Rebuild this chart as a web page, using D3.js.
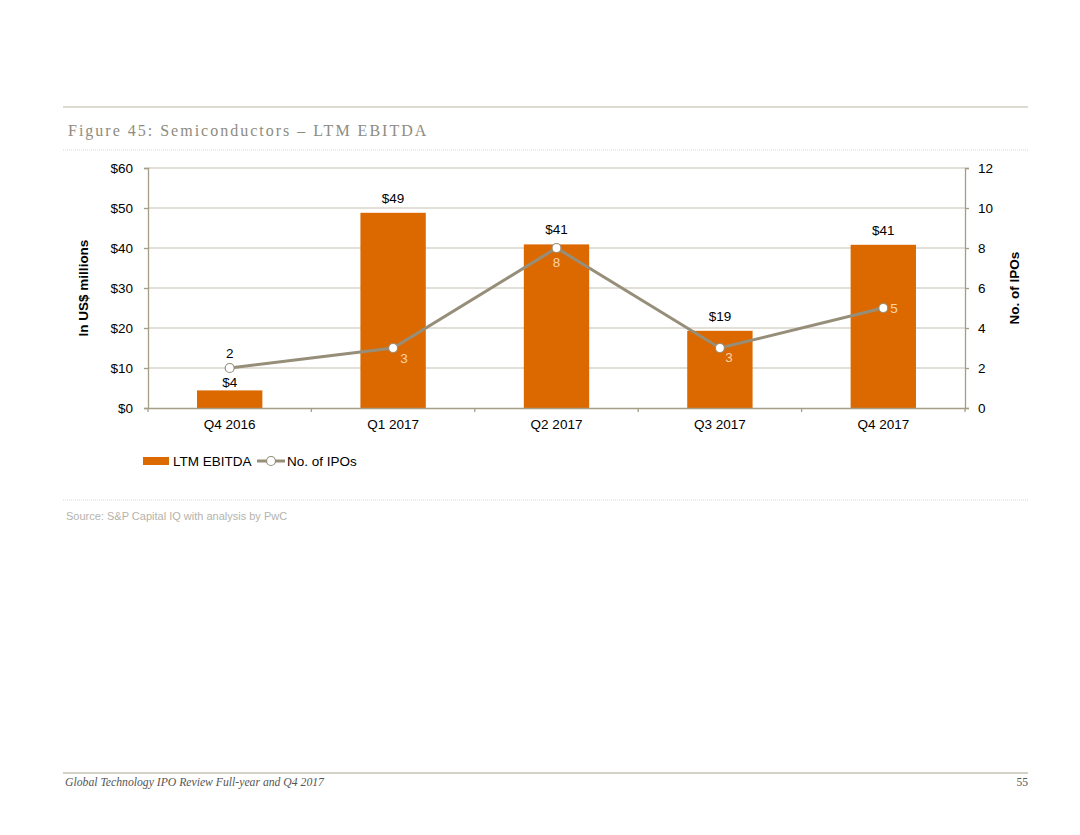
<!DOCTYPE html>
<html><head><meta charset="utf-8">
<script src="https://cdn.jsdelivr.net/npm/d3@7/dist/d3.min.js"></script>
<style>body{margin:0;background:#fff}svg{display:block}</style>
</head><body>
<script>
const categories = ["Q4 2016","Q1 2017","Q2 2017","Q3 2017","Q4 2017"];
const ebitda = [4.4, 48.8, 40.9, 19.3, 40.8];
const ebitdaLabels = ["$4","$49","$41","$19","$41"];
const ipos = [2, 3, 8, 3, 5];
const leftTicks = [0,10,20,30,40,50,60];
const rightTicks = [0,2,4,6,8,10,12];
// label placement per point of the IPO series
const ipoLabelPos = ["above","belowRight","below","belowRight2","right"];

const W=1080,H=835;
const svg=d3.select("body").append("svg").attr("width",W).attr("height",H);
const axisCol="#a59d86", gridCol="#d8d5cb", orange="#dc6900", lineCol="#968e78";
const font="Arial, 'Liberation Sans', sans-serif";
const fs=13.5;

// page rules
svg.append("line").attr("x1",63).attr("x2",1028).attr("y1",107).attr("y2",107).attr("stroke","#bdb8a6").attr("stroke-width",1.2);
svg.append("text").attr("x",68).attr("y",136).text("Figure 45: Semiconductors – LTM EBITDA")
  .attr("font-family","'Liberation Serif','DejaVu Serif',serif").attr("font-size",16).attr("letter-spacing",2).attr("fill","#8e8c80");
svg.append("line").attr("x1",63).attr("x2",1028).attr("y1",150).attr("y2",150).attr("stroke","#cfcbbd").attr("stroke-width",0.8).attr("stroke-dasharray","1,1");
svg.append("line").attr("x1",63).attr("x2",1028).attr("y1",500).attr("y2",500).attr("stroke","#cfcbbd").attr("stroke-width",0.8).attr("stroke-dasharray","1,1");
svg.append("text").attr("x",66).attr("y",520).text("Source: S&P Capital IQ with analysis by PwC")
  .attr("font-family",font).attr("font-size",11).attr("fill","#b5b3ab");
svg.append("line").attr("x1",63).attr("x2",1028).attr("y1",773).attr("y2",773).attr("stroke","#a9a48f").attr("stroke-width",1.2);
svg.append("text").attr("x",65).attr("y",786).text("Global Technology IPO Review Full-year and Q4 2017")
  .attr("font-family","'Liberation Serif','DejaVu Serif',serif").attr("font-style","italic").attr("font-size",11.7).attr("fill","#555");
svg.append("text").attr("x",1028).attr("y",786).attr("text-anchor","end").text("55")
  .attr("font-family","'Liberation Serif','DejaVu Serif',serif").attr("font-size",11.5).attr("fill","#555");

const x0=148,x1=965,y0=408,y1=168;
const x=d3.scaleBand().domain(categories).range([x0,x1]).paddingInner(0).paddingOuter(0);
const yL=d3.scaleLinear().domain([0,60]).range([y0,y1]);
const yR=d3.scaleLinear().domain([0,12]).range([y0,y1]);

// gridlines
svg.append("g").selectAll("line").data(leftTicks.filter(d=>d>0)).join("line")
  .attr("x1",x0).attr("x2",x1).attr("y1",d=>yL(d)).attr("y2",d=>yL(d)).attr("stroke",gridCol).attr("stroke-width",1.3);

// bars
const bw=x.bandwidth()*0.4;
svg.append("g").selectAll("rect").data(ebitda).join("rect")
  .attr("x",(d,i)=>x(categories[i])+x.bandwidth()/2-bw/2).attr("width",bw)
  .attr("y",d=>yL(d)).attr("height",d=>yL(0)-yL(d)).attr("fill",orange);

// axes
function styleAxis(g){g.select(".domain").attr("stroke",axisCol).attr("stroke-width",1.3);
  g.selectAll(".tick line").attr("stroke",axisCol).attr("stroke-width",1.3);
  g.selectAll("text").attr("font-family",font).attr("font-size",fs).attr("fill","#000");}
svg.append("g").attr("transform",`translate(${x0},0)`)
  .call(d3.axisLeft(yL).tickValues(leftTicks).tickFormat(d=>"$"+d).tickSizeOuter(0).tickSize(4).tickPadding(11)).call(styleAxis);
svg.append("g").attr("transform",`translate(${x1},0)`)
  .call(d3.axisRight(yR).tickValues(rightTicks).tickSizeOuter(0).tickSize(4).tickPadding(9)).call(styleAxis);
const gx=svg.append("g").attr("transform",`translate(0,${y0})`)
  .call(d3.axisBottom(x).tickSize(0).tickSizeOuter(0).tickPadding(9)).call(styleAxis);
gx.selectAll(".tick text").attr("dy","0.9em");
// category boundary ticks
svg.append("g").selectAll("line").data(d3.range(categories.length+1)).join("line")
  .attr("x1",i=>x0+i*x.step()).attr("x2",i=>x0+i*x.step()).attr("y1",y0).attr("y2",y0+4)
  .attr("stroke",axisCol).attr("stroke-width",1.3);

// axis titles
svg.append("text").attr("transform",`translate(88,${(y0+y1)/2}) rotate(-90)`).attr("text-anchor","middle")
  .text("In US$ millions").attr("font-family",font).attr("font-size",fs).attr("font-weight","bold");
svg.append("text").attr("transform",`translate(1019,${(y0+y1)/2}) rotate(-90)`).attr("text-anchor","middle")
  .text("No. of IPOs").attr("font-family",font).attr("font-size",fs).attr("font-weight","bold");

// bar labels
svg.append("g").selectAll("text").data(ebitda).join("text")
  .attr("x",(d,i)=>x(categories[i])+x.bandwidth()/2).attr("y",d=>yL(d)-(d<10?3:10)).attr("text-anchor","middle")
  .text((d,i)=>ebitdaLabels[i]).attr("font-family",font).attr("font-size",fs).attr("fill","#000");

// line
const cx=(i)=>x(categories[i])+x.bandwidth()/2;
svg.append("path").datum(ipos).attr("fill","none").attr("stroke",lineCol).attr("stroke-width",3)
  .attr("d",d3.line().x((d,i)=>cx(i)).y(d=>yR(d)));
svg.append("g").selectAll("circle").data(ipos).join("circle")
  .attr("cx",(d,i)=>cx(i)).attr("cy",d=>yR(d)).attr("r",4.5).attr("fill","#fff").attr("stroke",lineCol).attr("stroke-width",1.2);
const off={above:[0,-10,"middle"],belowRight:[11,15,"middle"],below:[0,19,"middle"],belowRight2:[9,14,"middle"],right:[7,5,"start"]};
svg.append("g").selectAll("text").data(ipos).join("text")
  .attr("x",(d,i)=>cx(i)+off[ipoLabelPos[i]][0]).attr("y",(d,i)=>yR(d)+off[ipoLabelPos[i]][1])
  .attr("text-anchor",(d,i)=>off[ipoLabelPos[i]][2])
  .text(d=>d).attr("font-family",font).attr("font-size",fs)
  .attr("fill",(d,i)=>ipoLabelPos[i]==="above"?"#000":"#fcd2a4");

// legend
const lg=svg.append("g").attr("transform","translate(143,461)");
lg.append("rect").attr("x",0).attr("y",-4).attr("width",26).attr("height",8).attr("fill",orange);
lg.append("text").attr("x",30).attr("y",5).text("LTM EBITDA").attr("font-family",font).attr("font-size",fs);
lg.append("line").attr("x1",114).attr("x2",142).attr("y1",0).attr("y2",0).attr("stroke",lineCol).attr("stroke-width",3);
lg.append("circle").attr("cx",128).attr("cy",0).attr("r",4.5).attr("fill","#fff").attr("stroke",lineCol).attr("stroke-width",1.2);
lg.append("text").attr("x",144).attr("y",5).text("No. of IPOs").attr("font-family",font).attr("font-size",fs);
</script>
</body></html>
